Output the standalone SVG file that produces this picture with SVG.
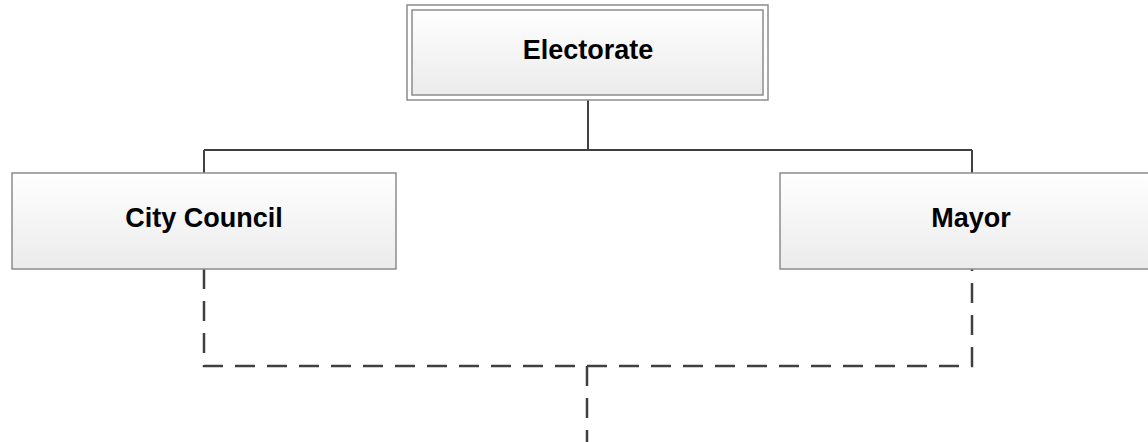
<svg xmlns="http://www.w3.org/2000/svg" width="1148" height="442" viewBox="0 0 1148 442">
<defs>
<linearGradient id="g" x1="0" y1="0" x2="0" y2="1">
<stop offset="0" stop-color="#ffffff"/>
<stop offset="1" stop-color="#ebebeb"/>
</linearGradient>
</defs>
<style>
.box{fill:url(#g);stroke:#8c8c8c;stroke-width:1.5}
.frame{fill:#ffffff;stroke:#8c8c8c;stroke-width:1.5}
.lbl{font-family:"Liberation Sans",Arial,sans-serif;font-weight:bold;font-size:27px;fill:#000;text-anchor:middle}
.solid{fill:none;stroke:#404040;stroke-width:2}
.dash{fill:none;stroke:#404040;stroke-width:2.5;stroke-dasharray:20 12}
</style>
<rect width="1148" height="442" fill="#ffffff"/>
<g id="connectors">
<path class="solid" d="M588 100 V150 M204 150 H972 M204 150 V173 M972 150 V173"/>
<path class="dash" d="M204 269 V366 H972 V269"/>
<path class="dash" d="M587 366 V442"/>
</g>
<g id="electorate">
<rect class="frame" x="407" y="5" width="361" height="95"/>
<rect class="box" x="412" y="10" width="351" height="85"/>
<text class="lbl" x="588" y="59">Electorate</text>
</g>
<g id="city-council">
<rect class="box" x="12" y="173" width="384" height="96"/>
<text class="lbl" x="204" y="227">City Council</text>
</g>
<g id="mayor">
<rect class="box" x="780" y="173" width="384" height="96"/>
<text class="lbl" x="971" y="227">Mayor</text>
</g>
</svg>
